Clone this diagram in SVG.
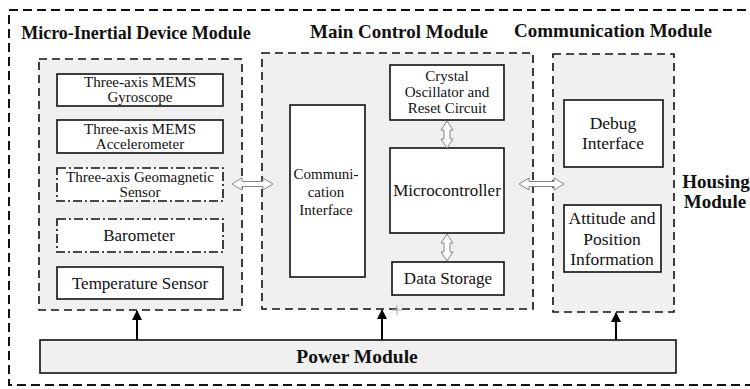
<svg xmlns="http://www.w3.org/2000/svg" width="750" height="389" viewBox="0 0 750 389">
<defs>
<marker id="ah" markerWidth="10" markerHeight="10" refX="9" refY="5" orient="auto" markerUnits="userSpaceOnUse"><path d="M0,0 L10,5 L0,10 Z" fill="#000"/></marker>
<style>
.outer{fill:none;stroke:#111;stroke-width:2;stroke-dasharray:9,5}
.panel{fill:#f0f0f0;stroke:#111;stroke-width:1.6;stroke-dasharray:8,5}
.box{fill:#fff;stroke:#111;stroke-width:1.6}
.dd{fill:#fff;stroke:#111;stroke-width:1.6;stroke-dasharray:9,3,2,3}
text{font-family:"Liberation Serif","Times New Roman",serif;fill:#111;text-anchor:middle}
.t{font-size:15px}
.m{font-size:17px}
.c{font-size:17.5px}
.h{font-size:19px;font-weight:bold}
.dbl{fill:#fff;stroke:#888;stroke-width:1}
.pw{stroke:#000;stroke-width:2;fill:none}
</style>
</defs>
<g id="housing">
<rect class="outer" x="9" y="10" width="745" height="375"/>
<text class="h" x="716" y="188">Housing</text>
<text class="h" x="715" y="208">Module</text>
</g>
<g id="micro-inertial">
<text class="h" x="136" y="39" style="font-size:18px">Micro-Inertial Device Module</text>
<rect class="panel" x="39" y="59" width="203" height="251"/>
</g>
<g id="gyro"><rect class="box" x="57" y="74" width="166" height="32"/><text class="t" x="140" y="87">Three-axis MEMS</text><text class="t" x="140" y="102">Gyroscope</text></g>
<g id="accel"><rect class="box" x="57" y="120" width="166" height="33"/><text class="t" x="140" y="134">Three-axis MEMS</text><text class="t" x="140" y="149">Accelerometer</text></g>
<g id="geomag"><rect class="dd" x="57" y="168" width="166" height="33"/><text class="t" x="140" y="182">Three-axis Geomagnetic</text><text class="t" x="140" y="197">Sensor</text></g>
<g id="baro"><rect class="dd" x="57" y="219" width="166" height="33"/><text class="m" x="139" y="241">Barometer</text></g>
<g id="temp"><rect class="box" x="57" y="267" width="166" height="32"/><text class="m" x="140" y="289">Temperature Sensor</text></g>
<g id="main-control">
<text class="h" x="399" y="38">Main Control Module</text>
<rect class="panel" x="262" y="53" width="271" height="256"/>
</g>
<g id="comm-if"><rect class="box" x="290" y="105" width="75" height="172"/><text class="t" x="326" y="179">Communi-</text><text class="t" x="326" y="197">cation</text><text class="t" x="326" y="215">Interface</text></g>
<g id="crystal"><rect class="box" x="390" y="65" width="114" height="55"/><text class="t" x="447" y="81">Crystal</text><text class="t" x="447" y="97">Oscillator and</text><text class="t" x="447" y="113">Reset Circuit</text></g>
<g id="mcu"><rect class="box" x="390" y="148" width="114" height="85"/><text class="m" x="447" y="196">Microcontroller</text></g>
<g id="storage"><rect class="box" x="392" y="262" width="112" height="33"/><text class="m" x="448" y="284">Data Storage</text></g>
<g id="communication">
<text class="h" x="613" y="37">Communication Module</text>
<rect class="panel" x="553" y="54" width="121" height="258"/>
</g>
<g id="debug"><rect class="box" x="564" y="100" width="99" height="67"/><text class="c" x="613" y="129">Debug</text><text class="c" x="613" y="149">Interface</text></g>
<g id="attitude"><rect class="box" x="564" y="205" width="97" height="67"/><text class="c" x="612" y="224">Attitude and</text><text class="c" x="612" y="245">Position</text><text class="c" x="612" y="265">Information</text></g>
<g id="power"><rect class="box" x="40" y="340" width="636" height="33" style="fill:#f0f0f0"/><text class="h" x="357" y="363" style="font-size:19.5px">Power Module</text></g>
<g id="connectors">
<polygon class="dbl" points="232,184 242,178 242,181.5 263,181.5 263,178 273,184 263,190 263,186.5 242,186.5 242,190"/>
<polygon class="dbl" points="519,184 529,178 529,181.5 554,181.5 554,178 564,184 554,190 554,186.5 529,186.5 529,190"/>
<polygon class="dbl" points="447,121 453,130 450,130 450,139 453,139 447,148 441,139 444,139 444,130 441,130"/>
<polygon class="dbl" points="447,234 453,243 450,243 450,252 453,252 447,261 441,252 444,252 444,243 441,243"/>
<line class="pw" x1="137" y1="340" x2="137" y2="311" marker-end="url(#ah)"/>
<line class="pw" x1="382" y1="340" x2="382" y2="310" marker-end="url(#ah)"/>
<line class="pw" x1="616" y1="340" x2="616" y2="313" marker-end="url(#ah)"/>
<path d="M397,305 V315 M392,310 H402" stroke="#aaa" stroke-width="1"/>
</g>
</svg>
